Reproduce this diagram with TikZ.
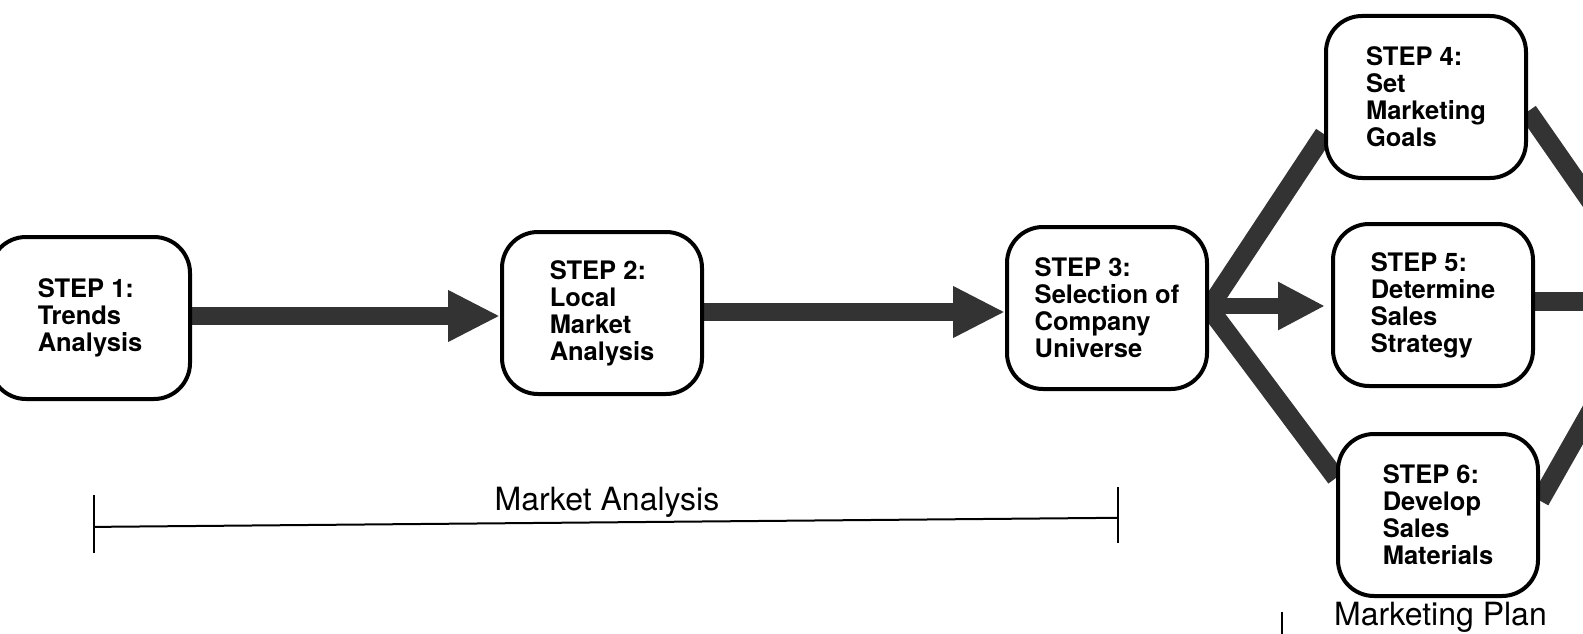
\documentclass[tikz,border=0pt]{standalone}
\usepackage{fontspec}
\setmainfont{TeX Gyre Heros}
\usetikzlibrary{arrows.meta,backgrounds,calc}
\begin{document}
\begin{tikzpicture}[x=1pt,y=-1pt,
  stepbox/.style={draw, line width=4pt, rounded corners=36pt, fill=white,
    minimum width=200pt, minimum height=162pt, align=left, inner sep=0pt,
    font=\bfseries\fontsize{25.5}{27}\selectfont},
  band/.style={line width=19pt, draw=black!80, line cap=butt},
  bigarrow/.style={band, line width=18pt, -{Triangle[width=48pt,length=52pt,fill=black!80]}},
  lbl/.style={font=\fontsize{32}{34}\selectfont, inner sep=0pt},
  rule/.style={line width=2pt}]
\useasboundingbox (0,0) rectangle (1583,634);
\node[stepbox] (s1) at (90,318) {STEP 1:\\Trends\\Analysis};
\node[stepbox] (s2) at (602,313) {STEP 2:\\Local\\Market\\Analysis};
\node[stepbox] (s3) at (1107,308) {STEP 3:\\Selection of\\Company\\Universe};
\node[stepbox] (s4) at (1426,97) {STEP 4:\\Set\\Marketing\\Goals};
\node[stepbox] (s5) at (1433,305) {STEP 5:\\Determine\\Sales\\Strategy};
\node[stepbox] (s6) at (1438,515) {STEP 6:\\Develop\\Sales\\Materials};
\coordinate (r4) at (1605,222);
\coordinate (r5) at (1600,301);
\coordinate (r6) at (1605,386);
\begin{scope}[on background layer]
\clip (0,0) rectangle (1583,634);
\draw[bigarrow] (s1.east |- 0,316) -- (s2.west |- 0,316);
\draw[bigarrow] (s2.east |- 0,312) -- (s3.west |- 0,312);
\draw[bigarrow, line width=16pt, -{Triangle[width=45pt,length=47pt,fill=black!80]}] (s3.east |- 0,306) -- ($(s5.west |- 0,306)+(-6,0)$);
\draw[band] (s3.east) -- (s4.200);
\draw[band] (s3.east) -- (s6.160);
\draw[band] (s4.-8) -- (r4);
\draw[band] (s5.east |- r5) -- (r5);
\draw[band] (s6.8) -- (r6);
\end{scope}
\coordinate (m1) at (94,495);
\coordinate (m2) at (94,553);
\coordinate (m3) at (1118,487);
\coordinate (m4) at (1118,543);
\draw[rule] (m1) -- (m2);
\draw[rule] (m3) -- (m4);
\draw[rule] ($(m1)!0.55!(m2)$) -- ($(m3)!0.55!(m4)$);
\node[lbl, anchor=base] (ma) at (607,510) {Market Analysis};
\node[lbl, anchor=base west] (mp) at (1334,625) {Marketing Plan};
\coordinate (t1) at (1282,612);
\coordinate (t2) at (1282,640);
\draw[rule] (t1) -- (t2);
\end{tikzpicture}
\end{document}
